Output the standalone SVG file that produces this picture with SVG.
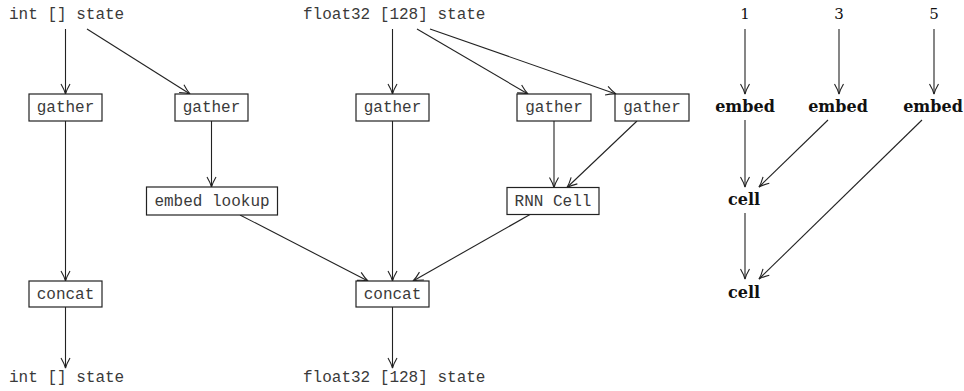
<svg xmlns="http://www.w3.org/2000/svg" width="964" height="391" viewBox="0 0 964 391">
<defs>
<style>
.mono{font-family:"Liberation Mono","Courier New",monospace;font-size:16px;fill:#3a3a3a}
.box{fill:#fff;stroke:#222;stroke-width:1.2}
.edge{fill:none;stroke:#222;stroke-width:1.1;marker-end:url(#arr)}
.num{font-family:"DejaVu Serif","Liberation Serif",serif;font-size:15px;fill:#111}
.bold{font-family:"DejaVu Serif","Liberation Serif",serif;font-size:16px;font-weight:bold;fill:#111}
</style>
<marker id="arr" viewBox="-11 -6 12 12" refX="0" refY="0" markerWidth="12" markerHeight="12" markerUnits="userSpaceOnUse" orient="auto">
<path d="M-10,-4.5 Q-4,-1 0,0 Q-4,1 -10,4.5" fill="none" stroke="#222" stroke-width="1.1"/>
</marker>
</defs>
<rect width="964" height="391" fill="#fff"/>
<g id="connectors">
<path class="edge" d="M65.5,29 V94"/>
<path class="edge" d="M87,29 L190,94"/>
<path class="edge" d="M65.5,121 V281"/>
<path class="edge" d="M65.5,307 V368"/>
<path class="edge" d="M211.5,121 V187"/>
<path class="edge" d="M240,215 L368,281"/>
<path class="edge" d="M392.5,29 V94"/>
<path class="edge" d="M417,29 L528,94"/>
<path class="edge" d="M430,29 L616,94"/>
<path class="edge" d="M392.5,121 V281"/>
<path class="edge" d="M554,121 V187.5"/>
<path class="edge" d="M637,121 L567,187.5"/>
<path class="edge" d="M530,214.5 L413,281"/>
<path class="edge" d="M392.5,307 V368"/>
<path class="edge" d="M745,29 V94"/>
<path class="edge" d="M839,29 V94"/>
<path class="edge" d="M934,29 V94"/>
<path class="edge" d="M745,120 V187"/>
<path class="edge" d="M828,120 L759,187"/>
<path class="edge" d="M745,213 V279"/>
<path class="edge" d="M922,120 L759,279"/>
</g>
<g id="in_int"><text class="mono" x="9" y="19">int [] state</text></g>
<g id="in_float"><text class="mono" x="303" y="19">float32 [128] state</text></g>
<g id="out_int"><text class="mono" x="9" y="382">int [] state</text></g>
<g id="out_float"><text class="mono" x="303" y="382">float32 [128] state</text></g>
<g id="gather1"><rect class="box" x="29" y="94" width="73" height="27"/><text class="mono" x="65.5" y="112" text-anchor="middle">gather</text></g>
<g id="gather2"><rect class="box" x="175" y="94" width="73" height="27"/><text class="mono" x="211.5" y="112" text-anchor="middle">gather</text></g>
<g id="gather3"><rect class="box" x="356" y="94" width="73" height="27"/><text class="mono" x="392.5" y="112" text-anchor="middle">gather</text></g>
<g id="gather4"><rect class="box" x="517" y="94" width="74" height="27"/><text class="mono" x="554" y="112" text-anchor="middle">gather</text></g>
<g id="gather5"><rect class="box" x="615" y="94" width="74" height="27"/><text class="mono" x="652" y="112" text-anchor="middle">gather</text></g>
<g id="embed_lookup"><rect class="box" x="146.5" y="187" width="131" height="28"/><text class="mono" x="212" y="205.5" text-anchor="middle">embed lookup</text></g>
<g id="rnn_cell"><rect class="box" x="507" y="187.5" width="92" height="27"/><text class="mono" x="553" y="205.5" text-anchor="middle">RNN Cell</text></g>
<g id="concat1"><rect class="box" x="29" y="281" width="73" height="26"/><text class="mono" x="65.5" y="298.5" text-anchor="middle">concat</text></g>
<g id="concat2"><rect class="box" x="356" y="281" width="73" height="26"/><text class="mono" x="392.5" y="298.5" text-anchor="middle">concat</text></g>
<g id="n1"><text class="num" x="745" y="19" text-anchor="middle">1</text></g>
<g id="n3"><text class="num" x="839" y="19" text-anchor="middle">3</text></g>
<g id="n5"><text class="num" x="934" y="19" text-anchor="middle">5</text></g>
<g id="embed1"><text class="bold" x="745" y="112" text-anchor="middle">embed</text></g>
<g id="embed2"><text class="bold" x="838" y="112" text-anchor="middle">embed</text></g>
<g id="embed3"><text class="bold" x="933" y="112" text-anchor="middle">embed</text></g>
<g id="cell1"><text class="bold" x="744" y="205" text-anchor="middle">cell</text></g>
<g id="cell2"><text class="bold" x="744" y="298" text-anchor="middle">cell</text></g>
</svg>
